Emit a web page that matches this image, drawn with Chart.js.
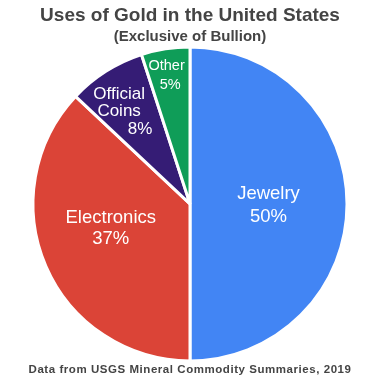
<!DOCTYPE html>
<html>
<head>
<meta charset="utf-8">
<style>
  html, body { margin: 0; padding: 0; background: #fff; }
  #wrap { width: 380px; height: 380px; }
</style>
<script src="https://cdn.jsdelivr.net/npm/chart.js@4"></script>
</head>
<body>
<div id="wrap"><canvas id="gold-chart" width="380" height="380"></canvas></div>
<script>
// values
const categories = ["Jewelry", "Electronics", "Official Coins", "Other"];
const shares = [50, 37, 8, 5];
const sliceColors = ["#4285f4", "#db4437", "#351c75", "#0f9d58"];

const titleText = "Uses of Gold in the United States";
const subtitleText = "(Exclusive of Bullion)";
const footerText = "Data from USGS Mineral Commodity Summaries, 2019";

// label text lines per slice, and where they sit relative to the slice
const labelLines = [["Jewelry", "50%"], ["Electronics", "37%"], ["Official", "Coins", "8%"], ["Other", "5%"]];
const labelRadius = [0.5, 0.55, 0.7, 0.83];
const labelNudge = [[0, 2], [0, -10], [-12, 0.5], [-3, 0]];
const labelFont = [18.5, 18.5, 17, 14.5];
const labelGap = [23, 21, 17.5, 19];
// the percent line is not centred under the name in the two small slices
const percentShift = [0, 0, 21, 3.5];

const sliceLabels = {
  id: "sliceLabels",
  afterDatasetsDraw(chart) {
    const ctx = chart.ctx;
    ctx.save();
    ctx.fillStyle = "#fff";
    ctx.textAlign = "center";
    ctx.textBaseline = "middle";
    chart.getDatasetMeta(0).data.forEach((arc, i) => {
      const mid = (arc.startAngle + arc.endAngle) / 2;
      const r = arc.outerRadius * labelRadius[i];
      const x = arc.x + Math.cos(mid) * r + labelNudge[i][0];
      const y = arc.y + Math.sin(mid) * r + labelNudge[i][1];
      const lines = labelLines[i];
      ctx.font = labelFont[i] + "px 'Liberation Sans'";
      lines.forEach((line, n) => {
        const shift = n === lines.length - 1 ? percentShift[i] : 0;
        ctx.fillText(line, x + shift, y + (n - (lines.length - 1) / 2) * labelGap[i]);
      });
    });
    ctx.restore();
  },
};

const footerNote = {
  id: "footerNote",
  afterDraw(chart) {
    const ctx = chart.ctx;
    ctx.save();
    ctx.fillStyle = "#444";
    ctx.font = "bold 11.5px 'Liberation Sans'";
    ctx.letterSpacing = "0.55px";
    ctx.textAlign = "center";
    ctx.textBaseline = "middle";
    ctx.fillText(footerText, 190, 370);
    ctx.restore();
  },
};

new Chart(document.getElementById("gold-chart"), {
  type: "pie",
  data: {
    labels: categories,
    datasets: [
      {
        data: shares,
        backgroundColor: sliceColors,
        borderColor: "#fff",
        borderWidth: 3,
        radius: 157,
      },
    ],
  },
  options: {
    responsive: false,
    animation: false,
    layout: { padding: { left: 34, right: 34, top: 0, bottom: 20 } },
    plugins: {
      legend: { display: false },
      tooltip: { enabled: false },
      title: {
        display: true,
        text: titleText,
        color: "#444",
        font: { family: "'Liberation Sans'", size: 19, weight: "bold" },
        padding: { top: 4, bottom: 1 },
      },
      subtitle: {
        display: true,
        text: subtitleText,
        color: "#444",
        font: { family: "'Liberation Sans'", size: 15, weight: "bold" },
        padding: { top: 0, bottom: 2 },
      },
    },
  },
  plugins: [sliceLabels, footerNote],
});
</script>
</body>
</html>
